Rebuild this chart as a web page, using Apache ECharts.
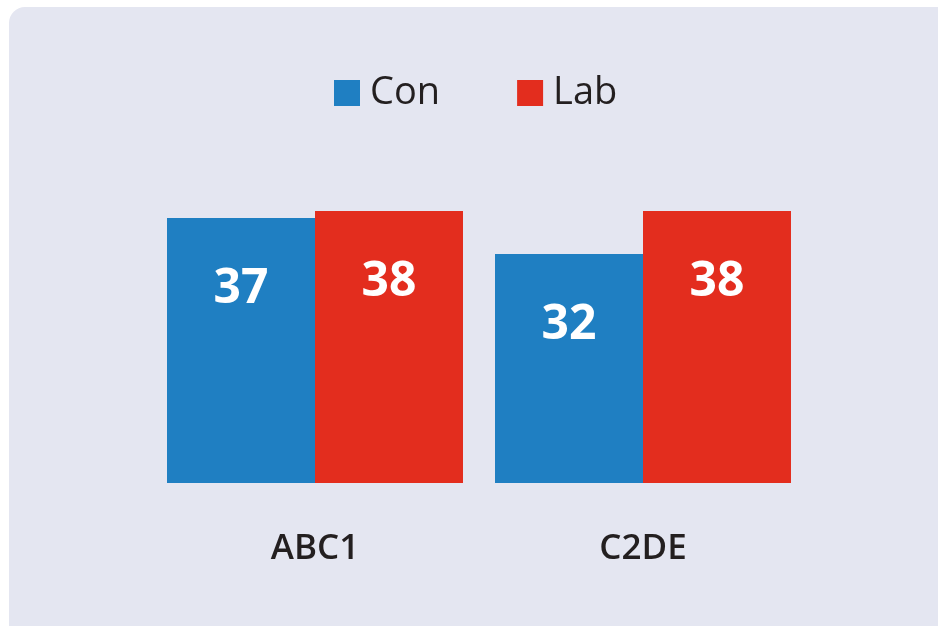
<!DOCTYPE html>
<html>
<head>
<meta charset="utf-8">
<script src="https://cdn.jsdelivr.net/npm/echarts@6/dist/echarts.min.js"></script>
<style>
  html, body { margin: 0; padding: 0; background: #ffffff; }
  #wrap { position: relative; width: 938px; height: 626px; overflow: hidden; }
  #panel { position: absolute; left: 9px; top: 7px; width: 960px; height: 640px; background: #e4e6f1; border-radius: 16px; }
  #chart { position: absolute; left: 0; top: 0; width: 938px; height: 626px; }
</style>
</head>
<body>
<div id="wrap">
  <div id="panel"></div>
  <div id="chart"></div>
</div>
<script>
  var categories = ['ABC1', 'C2DE'];
  var seriesNames = ['Con', 'Lab'];
  var conValues = [37, 32];
  var labValues = [38, 38];

  var blue = '#1f7fc2';
  var red = '#e32d1e';
  var ink = '#231f20';
  var font = '"Open Sans", "Noto Sans", sans-serif';

  var chart = echarts.init(document.getElementById('chart'), null, { renderer: 'canvas' });

  var barLabel = {
    show: true,
    position: 'insideTop',
    distance: 47,
    color: '#ffffff',
    fontFamily: font,
    fontSize: 48,
    fontWeight: 'bold'
  };

  chart.setOption({
    animation: false,
    backgroundColor: 'transparent',
    legend: {
      data: seriesNames,
      left: 329,
      top: 69,
      itemWidth: 26,
      itemHeight: 26,
      itemGap: 77,
      icon: 'rect',
      textStyle: { color: ink, fontFamily: font, fontSize: 38, fontWeight: 500, padding: [0, 0, 0, 5] }
    },
    grid: { left: 151, width: 656, top: 125, bottom: 143 },
    xAxis: {
      type: 'category',
      data: categories,
      axisLine: { show: false },
      axisTick: { show: false },
      axisLabel: { color: ink, fontFamily: font, fontSize: 35, fontWeight: 600, margin: 49 }
    },
    yAxis: {
      type: 'value',
      min: 0,
      max: 50,
      show: false,
      splitLine: { show: false }
    },
    series: [
      {
        name: 'Con',
        type: 'bar',
        data: conValues,
        itemStyle: { color: blue },
        barGap: '0%',
        barCategoryGap: '9.76%',
        label: barLabel
      },
      {
        name: 'Lab',
        type: 'bar',
        data: labValues,
        itemStyle: { color: red },
        barGap: '0%',
        barCategoryGap: '9.76%',
        label: barLabel
      }
    ]
  });
</script>
</body>
</html>
